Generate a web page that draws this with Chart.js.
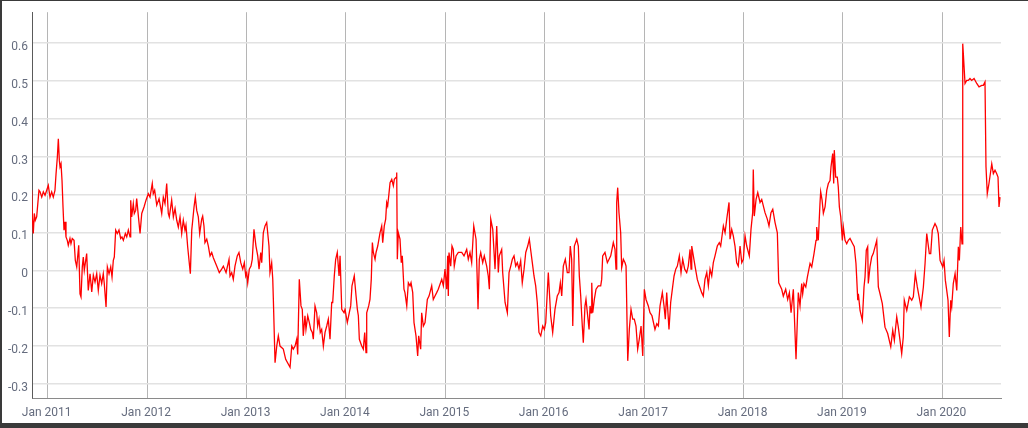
<!DOCTYPE html>
<html><head><meta charset="utf-8">
<script src="https://cdn.jsdelivr.net/npm/chart.js@4.4.1/dist/chart.umd.min.js"></script>
<style>
html,body{margin:0;padding:0;background:#3a3a3a;width:1028px;height:428px;overflow:hidden}
#wrap{position:absolute;left:2px;top:1px;width:1026px;height:422px;background:#fff}
canvas{display:block}
</style></head><body>
<div id="wrap"><canvas id="c" width="1026" height="422"></canvas></div>
<script>
const dates=[
2010.839,2010.845,2010.855,2010.865,2010.875,2010.889,2010.912,2010.923,2010.940,2010.956,2010.973,2010.990,
2011.006,2011.023,2011.040,2011.056,2011.073,2011.084,2011.097,2011.107,2011.117,2011.124,2011.134,2011.144,
2011.154,2011.164,2011.174,2011.184,2011.197,2011.207,2011.224,2011.234,2011.247,2011.265,2011.278,2011.292,
2011.312,2011.325,2011.335,2011.348,2011.358,2011.368,2011.392,2011.408,2011.426,2011.443,2011.459,2011.476,
2011.493,2011.509,2011.526,2011.543,2011.559,2011.569,2011.587,2011.600,2011.617,2011.634,2011.647,2011.660,
2011.670,2011.684,2011.700,2011.717,2011.734,2011.747,2011.761,2011.781,2011.795,2011.811,2011.828,2011.835,
2011.845,2011.861,2011.871,2011.885,2011.895,2011.929,2011.946,2011.969,2011.989,
2012.012,2012.029,2012.052,2012.062,2012.076,2012.097,2012.120,2012.147,2012.163,2012.180,2012.197,2012.213,
2012.223,2012.247,2012.264,2012.281,2012.298,2012.314,2012.331,2012.348,2012.364,2012.381,2012.391,2012.408,
2012.435,2012.449,2012.459,2012.472,2012.485,2012.499,2012.515,2012.529,2012.549,2012.559,2012.572,2012.582,
2012.600,2012.616,2012.633,2012.650,2012.666,2012.700,2012.726,2012.750,2012.767,2012.794,2012.824,2012.834,
2012.851,2012.867,2012.884,2012.907,2012.924,2012.942,2012.962,2012.978,2012.992,
2013.002,2013.012,2013.028,2013.045,2013.058,2013.075,2013.095,2013.113,2013.126,2013.143,2013.153,2013.169,
2013.186,2013.203,2013.226,2013.236,2013.253,2013.264,2013.270,2013.287,2013.304,2013.320,2013.337,2013.370,
2013.394,2013.438,2013.455,2013.471,2013.488,2013.505,2013.515,2013.531,2013.548,2013.561,2013.571,2013.588,
2013.598,2013.616,2013.632,2013.646,2013.662,2013.672,2013.689,2013.706,2013.716,2013.729,2013.742,2013.756,
2013.773,2013.790,2013.807,2013.823,2013.840,2013.857,2013.867,2013.883,2013.897,2013.913,2013.931,2013.941,
2013.958,2013.981,2013.991,
2014.014,2014.034,2014.048,2014.061,2014.084,2014.102,2014.115,2014.125,2014.135,2014.159,2014.175,2014.189,
2014.202,2014.209,2014.229,2014.242,2014.255,2014.266,2014.276,2014.293,2014.303,2014.320,2014.343,2014.360,
2014.370,2014.386,2014.400,2014.410,2014.420,2014.434,2014.444,2014.461,2014.477,2014.487,2014.504,2014.511,
2014.517,2014.527,2014.544,2014.557,2014.567,2014.584,2014.594,2014.612,2014.628,2014.645,2014.655,2014.672,
2014.685,2014.705,2014.722,2014.732,2014.752,2014.762,2014.779,2014.796,2014.819,2014.836,2014.863,2014.879,
2014.896,2014.913,2014.929,2014.964,2014.980,2014.997,
2015.014,2015.024,2015.030,2015.037,2015.054,2015.067,2015.080,2015.090,2015.108,2015.131,2015.165,2015.188,
2015.215,2015.231,2015.248,2015.265,2015.286,2015.309,2015.319,2015.329,2015.342,2015.356,2015.376,2015.392,
2015.416,2015.432,2015.443,2015.457,2015.477,2015.500,2015.517,2015.533,2015.543,2015.567,2015.577,2015.601,
2015.624,2015.641,2015.658,2015.674,2015.691,2015.708,2015.724,2015.741,2015.758,2015.774,2015.792,2015.809,
2015.829,2015.845,2015.862,2015.875,2015.892,2015.909,2015.925,2015.942,2015.960,2015.980,2015.996,
2016.010,2016.036,2016.060,2016.080,2016.103,2016.126,2016.144,2016.157,2016.171,2016.187,2016.207,2016.227,
2016.244,2016.257,2016.271,2016.282,2016.298,2016.322,2016.338,2016.348,2016.362,2016.372,2016.388,2016.405,
2016.415,2016.446,2016.456,2016.466,2016.473,2016.483,2016.499,2016.516,2016.539,2016.563,2016.573,2016.583,
2016.606,2016.630,2016.647,2016.664,2016.690,2016.707,2016.717,2016.724,2016.734,2016.747,2016.764,2016.774,
2016.791,2016.808,2016.818,2016.835,2016.851,2016.868,2016.885,2016.901,2016.918,2016.935,2016.951,2016.969,
2016.986,
2017.002,2017.019,2017.042,2017.059,2017.079,2017.109,2017.127,2017.143,2017.160,2017.183,2017.200,2017.213,
2017.227,2017.250,2017.267,2017.288,2017.301,2017.318,2017.334,2017.354,2017.371,2017.388,2017.408,2017.428,
2017.444,2017.462,2017.472,2017.479,2017.495,2017.512,2017.535,2017.555,2017.579,2017.595,2017.612,2017.630,
2017.646,2017.663,2017.680,2017.696,2017.713,2017.736,2017.756,2017.770,2017.797,2017.814,2017.831,2017.854,
2017.864,2017.881,2017.897,2017.914,2017.931,2017.947,2017.965,2017.982,2017.998,
2018.015,2018.032,2018.058,2018.075,2018.092,2018.098,2018.108,2018.126,2018.143,2018.166,2018.183,2018.199,
2018.216,2018.239,2018.256,2018.276,2018.294,2018.317,2018.340,2018.354,2018.384,2018.400,2018.424,2018.444,
2018.461,2018.478,2018.501,2018.528,2018.551,2018.568,2018.585,2018.595,2018.608,2018.626,2018.642,2018.669,
2018.686,2018.709,2018.729,2018.736,2018.752,2018.769,2018.776,2018.790,2018.803,2018.820,2018.837,2018.853,
2018.870,2018.880,2018.897,2018.907,2018.913,2018.927,2018.943,2018.953,2018.964,2018.978,2018.994,
2019.004,2019.021,2019.038,2019.054,2019.071,2019.098,2019.114,2019.131,2019.138,2019.149,2019.155,2019.172,
2019.195,2019.212,2019.222,2019.235,2019.249,2019.255,2019.272,2019.289,2019.305,2019.340,2019.356,2019.373,
2019.396,2019.423,2019.450,2019.481,2019.501,2019.517,2019.541,2019.557,2019.591,2019.607,2019.617,2019.642,
2019.668,2019.692,2019.708,2019.728,2019.748,2019.785,2019.809,2019.826,2019.843,2019.869,2019.883,2019.899,
2019.926,2019.943,2019.959,2019.977,
2020.004,2020.017,2020.030,2020.044,2020.057,2020.070,2020.084,2020.094,2020.110,2020.128,2020.145,2020.161,
2020.171,2020.185,2020.198,2020.205,2020.211,2020.228,2020.245,2020.261,2020.278,2020.295,2020.319,2020.346,
2020.369,2020.396,2020.412,2020.429,2020.439,2020.452,2020.469,2020.497,2020.513,2020.530,2020.547,2020.560,
2020.570,2020.580
];
const values=[
0.211,0.141,0.097,0.150,0.132,0.141,0.211,0.207,0.193,0.207,0.198,0.211,
0.224,0.193,0.207,0.193,0.211,0.255,0.299,0.347,0.290,0.273,0.281,0.237,
0.167,0.106,0.128,0.088,0.079,0.066,0.084,0.070,0.084,0.079,0.026,0.009,
0.066,-0.062,-0.070,0.009,0.035,0.000,0.044,-0.053,-0.009,-0.057,-0.013,-0.031,
-0.009,-0.053,-0.013,-0.035,-0.009,-0.035,-0.097,0.009,-0.009,0.009,-0.018,0.026,
0.035,0.106,0.097,0.106,0.084,0.088,0.079,0.097,0.088,0.106,0.088,0.185,
0.141,0.176,0.150,0.158,0.189,0.097,0.150,0.167,0.185,
0.202,0.193,0.229,0.202,0.211,0.172,0.189,0.150,0.193,0.176,0.229,0.150,
0.141,0.185,0.141,0.163,0.132,0.114,0.141,0.097,0.132,0.106,0.119,0.062,
-0.009,0.106,0.132,0.167,0.193,0.158,0.141,0.097,0.135,0.143,0.117,0.073,
0.082,0.064,0.038,0.047,0.033,0.011,-0.006,0.003,0.011,-0.006,0.029,-0.015,
-0.006,-0.024,0.011,0.038,0.047,0.020,0.003,0.020,-0.015,
-0.006,-0.033,0.003,0.011,0.029,0.108,0.064,0.038,0.003,0.047,0.020,0.099,
0.117,0.126,0.064,-0.006,0.020,-0.024,-0.077,-0.244,-0.200,-0.173,-0.200,-0.208,
-0.235,-0.256,-0.200,-0.208,-0.200,-0.182,-0.222,-0.024,-0.094,-0.103,-0.173,-0.120,
-0.156,-0.120,-0.138,-0.156,-0.164,-0.182,-0.094,-0.112,-0.147,-0.129,-0.164,-0.156,
-0.200,-0.164,-0.147,-0.129,-0.182,-0.085,-0.085,-0.015,0.029,0.047,-0.015,0.038,
-0.103,-0.112,-0.103,
-0.138,-0.112,-0.094,-0.041,-0.015,-0.068,-0.103,-0.120,-0.182,-0.200,-0.208,-0.164,
-0.217,-0.112,-0.094,-0.077,-0.024,0.073,0.047,0.029,0.047,0.064,0.099,0.117,
0.073,0.117,0.135,0.179,0.170,0.205,0.231,0.240,0.223,0.240,0.245,0.258,
0.029,0.099,0.082,0.020,0.038,-0.050,-0.059,-0.094,-0.033,-0.041,-0.033,-0.059,
-0.138,-0.173,-0.226,-0.173,-0.208,-0.112,-0.147,-0.138,-0.077,-0.068,-0.041,-0.077,
-0.068,-0.059,-0.050,-0.024,-0.041,0.003,
-0.050,0.038,-0.068,0.047,0.011,0.064,0.055,0.011,0.038,0.047,0.047,0.038,
0.055,0.029,0.047,0.020,0.117,0.082,-0.006,-0.103,0.029,0.047,0.020,0.038,
0.011,-0.015,-0.050,0.135,0.108,0.003,0.117,-0.006,0.038,0.055,-0.006,-0.085,
-0.112,-0.006,0.011,0.029,0.038,0.011,0.020,0.003,0.025,-0.033,0.003,0.047,
0.064,0.082,0.047,0.020,-0.015,-0.041,-0.085,-0.164,-0.173,-0.147,-0.156,
-0.138,-0.006,-0.120,-0.164,-0.103,-0.068,-0.059,-0.033,-0.068,0.011,0.029,-0.006,
-0.006,0.064,0.029,-0.147,0.064,0.082,0.064,-0.015,-0.068,-0.120,-0.191,-0.094,
-0.077,-0.156,-0.094,-0.112,-0.033,-0.112,-0.077,-0.050,-0.041,-0.041,-0.024,0.038,
0.047,0.020,0.029,0.038,0.073,0.055,0.003,0.179,0.218,0.152,0.099,0.007,
0.029,0.020,0.011,-0.239,-0.156,-0.103,-0.129,-0.129,-0.147,-0.208,-0.182,-0.147,
-0.226,
-0.050,-0.077,-0.094,-0.112,-0.120,-0.156,-0.141,-0.147,-0.094,-0.059,-0.094,-0.129,
-0.059,-0.156,-0.085,-0.041,-0.015,0.003,0.011,0.038,-0.006,0.029,0.003,-0.006,
0.011,0.055,0.003,0.064,0.038,0.011,-0.024,-0.041,-0.059,-0.068,-0.024,-0.006,
-0.041,0.003,-0.015,0.020,0.038,0.064,0.073,0.064,0.117,0.099,0.135,0.179,
0.082,0.108,0.091,0.064,0.020,0.011,0.064,0.020,0.029,
0.091,0.064,0.038,0.108,0.152,0.266,0.143,0.187,0.205,0.179,0.187,0.170,
0.152,0.135,0.117,0.152,0.161,0.126,0.099,-0.033,-0.050,-0.068,-0.050,-0.077,
-0.059,-0.112,-0.050,-0.235,-0.059,-0.094,-0.035,-0.062,-0.035,-0.044,-0.018,0.018,
0.009,0.044,0.079,0.114,0.079,0.176,0.207,0.185,0.150,0.167,0.211,0.229,
0.237,0.273,0.308,0.229,0.317,0.246,0.246,0.220,0.167,0.141,0.079,
0.114,0.079,0.070,0.079,0.084,0.070,0.062,0.018,-0.018,-0.079,-0.062,-0.106,
-0.132,-0.044,-0.018,0.053,0.062,-0.035,0.009,0.035,0.044,0.079,-0.044,-0.062,
-0.088,-0.150,-0.167,-0.202,-0.158,-0.185,-0.123,-0.150,-0.220,-0.176,-0.079,-0.106,
-0.070,-0.079,-0.070,-0.009,-0.044,-0.097,-0.044,0.018,0.097,0.044,0.044,0.106,
0.123,0.114,0.097,0.026,
0.009,0.026,-0.026,-0.053,-0.079,-0.176,-0.079,-0.097,-0.035,-0.009,-0.053,0.062,
0.026,0.114,0.070,0.598,0.572,0.493,0.501,0.501,0.506,0.501,0.506,0.493,
0.484,0.488,0.488,0.497,0.273,0.202,0.229,0.281,0.255,0.264,0.255,0.246,
0.167,0.193
];
const yearTicks=[2011,2012,2013,2014,2015,2016,2017,2018,2019,2020];
const valueTicks=[-0.3,-0.2,-0.1,0,0.1,0.2,0.3,0.4,0.5,0.6];

Chart.defaults.font.family='Roboto';
const labelColor='#656c7e';
new Chart(document.getElementById('c'),{
  type:'line',
  data:{datasets:[{
    data:dates.map((d,i)=>({x:d,y:values[i]})),
    borderColor:'#ff0000',borderWidth:1.3,pointRadius:0,tension:0,fill:false
  }]},
  options:{
    responsive:false,animation:false,
    plugins:{legend:{display:false},tooltip:{enabled:false}},
    layout:{padding:{left:0,top:11,right:27,bottom:0}},
    scales:{
      x:{
        type:'linear',min:2010.842,max:2020.59,
        afterBuildTicks:s=>{s.ticks=yearTicks.map(v=>({value:v}));},
        afterFit:s=>{s.height=25;},
        ticks:{callback:v=>'Jan '+v,color:labelColor,font:{size:12},padding:8,labelOffset:-1,maxRotation:0,autoSkip:false},
        grid:{color:'#b5b5b5',lineWidth:1,drawTicks:false},
        border:{color:'#8a8a8a',width:1}
      },
      y:{
        type:'linear',min:-0.337,max:0.681,
        afterBuildTicks:s=>{s.ticks=valueTicks.map(v=>({value:v}));},
        afterFit:s=>{s.width=30;},
        ticks:{callback:v=>String(Math.round(v*10)/10),color:labelColor,font:{size:12},padding:4,labelOffset:4},
        grid:{color:'#e2e2e2',lineWidth:1.5,drawTicks:false},
        border:{color:'#5a5a5a',width:1}
      }
    }
  }
});
</script>
</body></html>
